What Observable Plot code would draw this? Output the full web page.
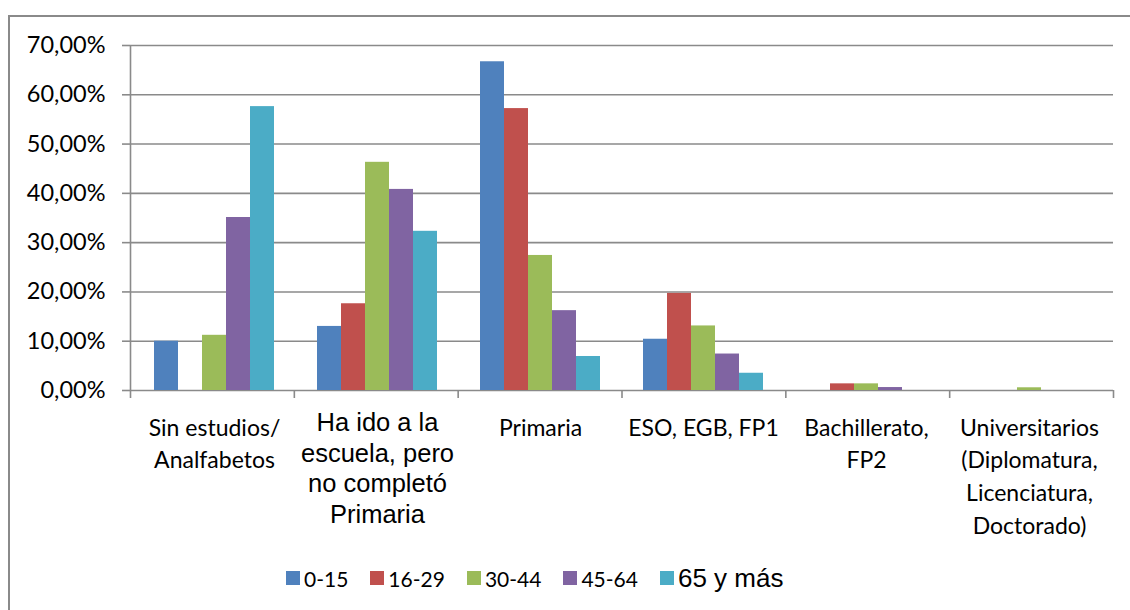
<!DOCTYPE html>
<html>
<head>
<meta charset="utf-8">
<script src="https://cdn.jsdelivr.net/npm/d3@7"></script>
<script src="https://cdn.jsdelivr.net/npm/@observablehq/plot@0.6"></script>
<style>
  html, body { margin: 0; padding: 0; background: #fff; }
  body { width: 1130px; height: 610px; position: relative; overflow: hidden; font-family: Lato, "Open Sans", sans-serif; }
  #frame { position: absolute; left: 8px; top: 15px; width: 1300px; height: 800px; border-left: 2px solid #8a8a8a; border-top: 2px solid #8a8a8a; }
  .layer { position: absolute; left: 0; top: 0; }
  .layer svg { background: transparent !important; overflow: visible; }
  #legend { position: absolute; left: 286px; top: 560px; height: 36px; display: flex; align-items: center; }
  .item { display: flex; align-items: center; margin-right: 22px; color: #000; }
  .sw { width: 14px; height: 14px; margin-right: 4px; }
</style>
</head>
<body>
<div id="frame"></div>
<div id="bg" class="layer"></div>
<div id="fg" class="layer"></div>
<div id="legend"></div>
<script>
// ---- data ----
const categories = [
  "Sin estudios/ Analfabetos",
  "Ha ido a la escuela, pero no completó Primaria",
  "Primaria",
  "ESO, EGB, FP1",
  "Bachillerato, FP2",
  "Universitarios (Diplomatura, Licenciatura, Doctorado)"
];
const tickLabels = [
  "Sin estudios/\nAnalfabetos",
  "Ha ido a la\nescuela, pero\nno completó\nPrimaria",
  "Primaria",
  "ESO, EGB, FP1",
  "Bachillerato,\nFP2",
  "Universitarios\n(Diplomatura,\nLicenciatura,\nDoctorado)"
];
const arialLabel = [false, true, false, false, false, false];
const series = ["0-15", "16-29", "30-44", "45-64", "65 y más"];
const colors = ["#4F81BD", "#C0504D", "#9BBB59", "#8064A2", "#4BACC6"];
// values in % per series, one per category
const v0_15  = [10.0, 13.0, 66.7, 10.4, 0.0, 0.0];
const v16_29 = [0.0, 17.6, 57.2, 19.7, 1.35, 0.0];
const v30_44 = [11.2, 46.3, 27.4, 13.1, 1.35, 0.55];
const v45_64 = [35.1, 40.8, 16.2, 7.4, 0.6, 0.0];
const v65    = [57.6, 32.3, 6.9, 3.5, 0.0, 0.0];
const yTicks = [0, 10, 20, 30, 40, 50, 60, 70];

const seriesValues = [v0_15, v16_29, v30_44, v45_64, v65];
const rows = [];
categories.forEach((c, i) => series.forEach((s, j) => rows.push({cat: c, series: s, value: seriesValues[j][i] / 100})));
const labelRows = categories.map((c, i) => ({cat: c, label: tickLabels[i], arial: arialLabel[i]}));

const W = 1130, H = 555;
const margins = {marginLeft: 130, marginRight: 17, marginTop: 45, marginBottom: H - 390};
const GRID = "#8a8a8a";
const fmt = d => (d * 100).toFixed(2).replace(".", ",") + "%";
const yScale = {domain: [0, 0.7]};

// background: gridlines, axes
const bg = Plot.plot({
  width: W, height: H, ...margins,
  x: {domain: [0, categories.length], axis: null},
  y: {...yScale, axis: null},
  marks: [
    Plot.ruleY(yTicks.map(d => d / 100), {stroke: GRID, strokeWidth: 1.6}),
    Plot.ruleX([0], {y1: 0, y2: 0.7, stroke: GRID, strokeWidth: 1.6}),
    Plot.axisY(yTicks.map(d => d / 100), {tickSize: 8, tickPadding: 17, tickFormat: fmt, stroke: GRID, fill: "#000", strokeWidth: 1.6, fontSize: 23.5, fontFamily: "Lato", label: null}),
    Plot.axisX(d3.range(categories.length + 1), {tickSize: 8, tickFormat: () => "", stroke: GRID, strokeWidth: 1.6, label: null})
  ]
});
document.getElementById("bg").appendChild(bg);

// foreground: bars and category labels
const fg = Plot.plot({
  width: W, height: H, ...margins,
  fx: {domain: categories, paddingInner: 0.24, paddingOuter: 0.12, axis: null, label: null},
  x: {domain: series, padding: 0, axis: null},
  y: {...yScale, axis: null},
  color: {domain: series, range: colors},
  marks: [
    Plot.barY(rows, {fx: "cat", x: "series", y: "value", fill: "series"}),
    Plot.text(labelRows.filter(d => !d.arial), {fx: "cat", text: "label", frameAnchor: "bottom", lineAnchor: "top", dy: 22, fontSize: 23, fontFamily: "Lato", lineHeight: 1.42, fill: "#000"}),
    Plot.text(labelRows.filter(d => d.arial), {fx: "cat", text: "label", frameAnchor: "bottom", lineAnchor: "top", dy: 19, fontSize: 25.5, fontFamily: "Liberation Sans", lineHeight: 1.2, fill: "#000"})
  ]
});
document.getElementById("fg").appendChild(fg);

// legend
const legend = document.getElementById("legend");
series.forEach((s, i) => {
  const item = document.createElement("div");
  item.className = "item";
  const sw = document.createElement("div");
  sw.className = "sw";
  sw.style.background = colors[i];
  const t = document.createElement("span");
  t.textContent = s;
  if (i === series.length - 1) { t.style.fontFamily = "'Liberation Sans', Arial, sans-serif"; t.style.fontSize = "26px"; }
  else { t.style.fontSize = "21px"; }
  item.appendChild(sw); item.appendChild(t);
  legend.appendChild(item);
});
</script>
</body>
</html>
